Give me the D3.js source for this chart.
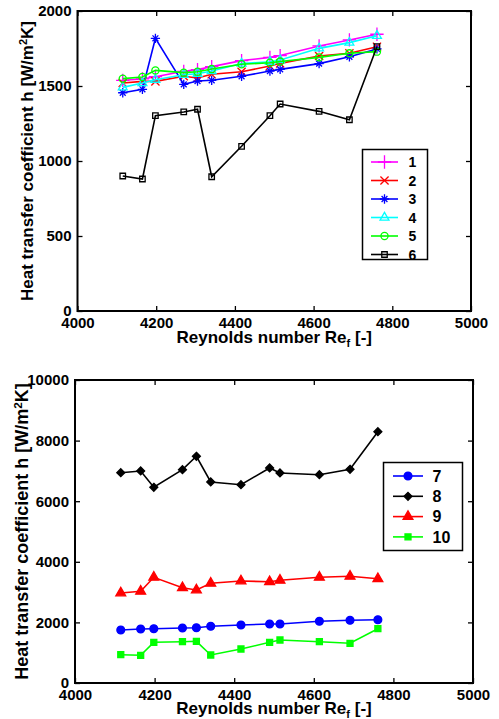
<!DOCTYPE html>
<html>
<head>
<meta charset="utf-8">
<script src="https://cdn.jsdelivr.net/npm/d3@7.9.0/dist/d3.min.js"></script>
<style>
  body { margin: 0; background: #fff; }
  svg { display: block; font-family: "Liberation Sans", Arial, Helvetica, sans-serif; font-weight: bold; }
</style>
</head>
<body>
<svg id="chart" width="499" height="719"></svg>
<script>
// Reynolds numbers shared by every run
const reynolds = [4115, 4165, 4198, 4270, 4305, 4341, 4417, 4489, 4515, 4614, 4691, 4761];

// upper panel, runs 1-6 [W/m2K]
const run1 = [1538, 1547, 1562, 1598, 1609, 1629, 1669, 1691, 1703, 1767, 1807, 1845];
const run2 = [1520, 1531, 1531, 1565, 1553, 1578, 1595, 1633, 1651, 1700, 1718, 1762];
const run3 = [1455, 1478, 1818, 1511, 1533, 1538, 1565, 1600, 1611, 1649, 1695, 1747];
const run4 = [1491, 1520, 1542, 1575, 1582, 1600, 1650, 1662, 1673, 1751, 1789, 1835];
const run5 = [1549, 1560, 1604, 1589, 1595, 1613, 1645, 1655, 1663, 1691, 1718, 1729];
const run6 = [900, 880, 1302, 1327, 1345, 895, 1098, 1302, 1380, 1331, 1275, 1762];

// lower panel, runs 7-10 [W/m2K]
const run7 = [1749, 1782, 1792, 1815, 1825, 1871, 1914, 1947, 1947, 2036, 2069, 2089];
const run8 = [6941, 6997, 6459, 7040, 7482, 6634, 6545, 7096, 6931, 6875, 7053, 8294];
const run9 = [2970, 3026, 3488, 3145, 3069, 3290, 3366, 3343, 3389, 3488, 3521, 3442];
const run10 = [934, 914, 1343, 1363, 1376, 924, 1122, 1343, 1419, 1363, 1310, 1792];

const xTicks = [4000, 4200, 4400, 4600, 4800, 5000];
const yTicksTop = [0, 500, 1000, 1500, 2000];
const yTicksBottom = [0, 2000, 4000, 6000, 8000, 10000];

const svg = d3.select('#chart');

// marker drawing: open/filled symbols in MATLAB style
function drawMarker(g, type, color, x, y) {
  const sym = (t, s) => d3.symbol().type(t).size(s)();
  const add = (d, fill) => g.append('path')
    .attr('d', d)
    .attr('transform', `translate(${x},${y})`)
    .attr('fill', fill)
    .attr('stroke', color)
    .attr('stroke-width', 1.3);
  switch (type) {
    case 'plus': add(sym(d3.symbolPlus, 60), 'none'); break;
    case 'times': add(sym(d3.symbolTimes, 45), 'none'); break;
    case 'star':
      add(sym(d3.symbolPlus, 30), 'none');
      add(sym(d3.symbolTimes, 24), 'none');
      break;
    case 'triangle': add(sym(d3.symbolTriangle, 34), 'none'); break;
    case 'circle': add(sym(d3.symbolCircle, 40), 'none'); break;
    case 'square': add(sym(d3.symbolSquare, 30), 'none'); break;
    case 'dot': add(sym(d3.symbolCircle, 48), color); break;
    case 'diamond': add(sym(d3.symbolDiamond2, 40), color); break;
    case 'tri': add(sym(d3.symbolTriangle, 42), color); break;
    case 'sq': add(sym(d3.symbolSquare, 36), color); break;
  }
}

function panel(opts) {
  const { left, right, top, bottom, yMax, yTicks, series, legend, yLabelX, yLabelSize, titleY } = opts;
  const x = d3.scaleLinear().domain([4000, 5000]).range([left, right]);
  const y = d3.scaleLinear().domain([0, yMax]).range([bottom, top]);
  const g = svg.append('g');

  // ticks pointing inward on all four sides
  g.append('g').attr('transform', `translate(0,${bottom})`)
    .call(d3.axisBottom(x).tickValues(xTicks).tickSize(-5).tickPadding(6).tickFormat(d3.format('d')))
    .call(a => a.select('.domain').remove());
  g.append('g').attr('transform', `translate(0,${top})`)
    .call(d3.axisTop(x).tickValues(xTicks).tickSize(-5).tickFormat(''))
    .call(a => a.select('.domain').remove());
  g.append('g').attr('transform', `translate(${left},0)`)
    .call(d3.axisLeft(y).tickValues(yTicks).tickSize(-5).tickPadding(6).tickFormat(d3.format('d')))
    .call(a => a.select('.domain').remove());
  g.append('g').attr('transform', `translate(${right},0)`)
    .call(d3.axisRight(y).tickValues(yTicks).tickSize(-5).tickFormat(''))
    .call(a => a.select('.domain').remove());
  g.selectAll('.tick line').attr('stroke', '#000').attr('stroke-width', 1.3);
  g.selectAll('.tick text').attr('fill', '#000').attr('font-size', 15).attr('font-family', null);

  g.append('rect')
    .attr('x', left).attr('y', top)
    .attr('width', right - left).attr('height', bottom - top)
    .attr('fill', 'none').attr('stroke', '#000').attr('stroke-width', 2);

  const line = d3.line().x((d, i) => x(reynolds[i])).y(d => y(d));
  series.forEach(s => {
    g.append('path').datum(s.values)
      .attr('d', line)
      .attr('fill', 'none')
      .attr('stroke', s.color)
      .attr('stroke-width', 1.6);
    s.values.forEach((v, i) => drawMarker(g, s.marker, s.color, x(reynolds[i]), y(v)));
  });

  // legend box
  const lg = g.append('g');
  lg.append('rect')
    .attr('x', legend.x).attr('y', legend.y)
    .attr('width', legend.w).attr('height', legend.h)
    .attr('fill', '#fff').attr('stroke', '#000').attr('stroke-width', 1.5);
  series.forEach((s, i) => {
    const ry = legend.y + legend.first + i * legend.step;
    lg.append('line')
      .attr('x1', legend.x + legend.lineX0).attr('x2', legend.x + legend.lineX1)
      .attr('y1', ry).attr('y2', ry)
      .attr('stroke', s.color).attr('stroke-width', 1.6);
    drawMarker(lg, s.marker, s.color, legend.x + (legend.lineX0 + legend.lineX1) / 2, ry);
    lg.append('text')
      .attr('x', legend.x + legend.textX).attr('y', ry)
      .attr('dy', '0.36em')
      .attr('font-size', legend.fontSize)
      .text(s.name);
  });

  // axis titles
  const xt = g.append('text')
    .attr('x', (left + right) / 2).attr('y', titleY)
    .attr('text-anchor', 'middle').attr('font-size', 17);
  xt.append('tspan').text('Reynolds number Re');
  xt.append('tspan').attr('font-size', 11).attr('dy', 4).text('f');
  xt.append('tspan').attr('dy', -4).text(' [-]');

  const yt = g.append('text')
    .attr('transform', `translate(${yLabelX},${(top + bottom) / 2}) rotate(-90)`)
    .attr('text-anchor', 'middle').attr('font-size', yLabelSize);
  yt.append('tspan').text('Heat transfer coefficient h [W/m');
  yt.append('tspan').attr('font-size', yLabelSize * 0.65).attr('dy', -6).text('2');
  yt.append('tspan').attr('dy', 6).text('K]');
}

panel({
  left: 77.5, right: 471, top: 11, bottom: 311, yMax: 2000, yTicks: yTicksTop,
  yLabelX: 33, yLabelSize: 17, titleY: 343,
  series: [
    { name: '1', values: run1, color: '#ff00ff', marker: 'plus' },
    { name: '2', values: run2, color: '#ff0000', marker: 'times' },
    { name: '3', values: run3, color: '#0000ff', marker: 'star' },
    { name: '4', values: run4, color: '#00ffff', marker: 'triangle' },
    { name: '5', values: run5, color: '#00ff00', marker: 'circle' },
    { name: '6', values: run6, color: '#000000', marker: 'square' }
  ],
  legend: { x: 362.5, y: 149.5, w: 65, h: 110, first: 12.5, step: 18.5, lineX0: 8.5, lineX1: 35.5, textX: 46, fontSize: 14 }
});

panel({
  left: 75, right: 473, top: 380, bottom: 683, yMax: 10000, yTicks: yTicksBottom,
  yLabelX: 28, yLabelSize: 18, titleY: 714,
  series: [
    { name: '7', values: run7, color: '#0000ff', marker: 'dot' },
    { name: '8', values: run8, color: '#000000', marker: 'diamond' },
    { name: '9', values: run9, color: '#ff0000', marker: 'tri' },
    { name: '10', values: run10, color: '#00ff00', marker: 'sq' }
  ],
  legend: { x: 383.5, y: 462.5, w: 79, h: 88, first: 13.5, step: 20.3, lineX0: 9.5, lineX1: 39.5, textX: 49, fontSize: 16 }
});
</script>
</body>
</html>
